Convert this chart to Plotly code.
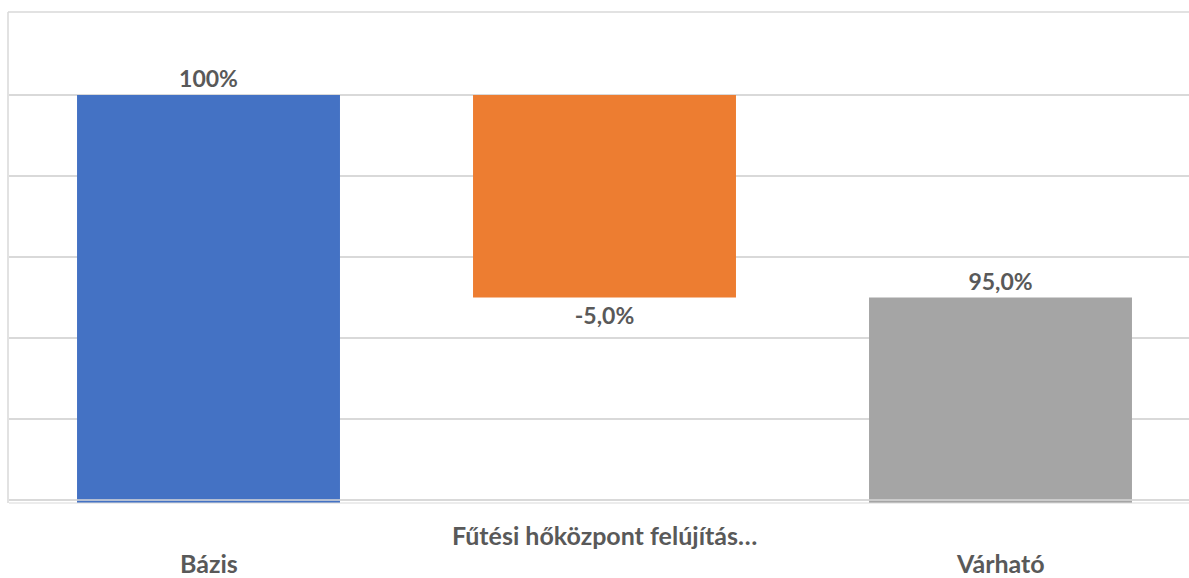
import plotly.graph_objects as go

categories = ["Bázis", "Fűtési hőközpont felújítás…", "Várható"]
values = [100.0, -5.0, 95.0]
bases = [0.0, 100.0, 0.0]
labels = ["100%", "-5,0%", "95,0%"]
colors = ["#4472C4", "#ED7D31", "#A5A5A5"]
label_rows = [0, 1, 0]  # staggered axis labels

FONT = "Lato, 'Open Sans', sans-serif"
TXT = "#595959"

fig = go.Figure()
fig.add_trace(go.Bar(
    x=list(range(len(categories))),
    y=values,
    base=bases,
    width=0.664,
    marker=dict(color=colors, line=dict(width=0)),
    text=labels,
    textposition="outside",
    textangle=0,
    cliponaxis=False,
    textfont=dict(family=FONT, size=23, color=TXT, weight="bold"),
    hoverinfo="skip",
))

for i, (c, row) in enumerate(zip(categories, label_rows)):
    fig.add_annotation(
        x=i, xref="x", y=-0.0654 if row == 1 else -0.1227, yref="paper",
        text=c, showarrow=False, yanchor="middle",
        font=dict(family=FONT, size=25, color=TXT, weight="bold"),
    )

W, H = 1189, 578
l, r, t, b = 9, 0, 14, 75
pw, ph = W - l - r, H - t - b

shapes = [
    dict(type="line", xref="paper", yref="paper", x0=-1 / pw, x1=-1 / pw, y0=0, y1=1 + 2 / ph,
         line=dict(color="#D9D9D9", width=1.5)),
    dict(type="line", xref="paper", yref="paper", x0=-1 / pw, x1=1, y0=1 + 2 / ph, y1=1 + 2 / ph,
         line=dict(color="#D9D9D9", width=1.5)),
    dict(type="line", xref="paper", yref="y", x0=0, x1=1, y0=90, y1=90, layer="above",
         line=dict(color="#D9D9D9", width=1.5)),
    dict(type="line", xref="paper", yref="paper", x0=0, x1=1, y0=0, y1=0, layer="above",
         line=dict(color="#D9D9D9", width=1)),
]

fig.update_layout(
    width=W, height=H,
    margin=dict(l=l, r=r, t=t, b=b),
    paper_bgcolor="white", plot_bgcolor="white",
    showlegend=False,
    shapes=shapes,
    xaxis=dict(range=[-0.5038, 2.476], showticklabels=False, showgrid=False,
               zeroline=False, showline=False, ticks=""),
    yaxis=dict(range=[89.926, 102], tick0=90, dtick=2, showticklabels=False,
               showgrid=True, gridcolor="#D9D9D9", gridwidth=1.5,
               zeroline=False, showline=False, ticks=""),
)

fig.write_html("out.html", config={"displayModeBar": False},
               post_script="document.body.style.margin='0';document.body.style.overflow='hidden';")
